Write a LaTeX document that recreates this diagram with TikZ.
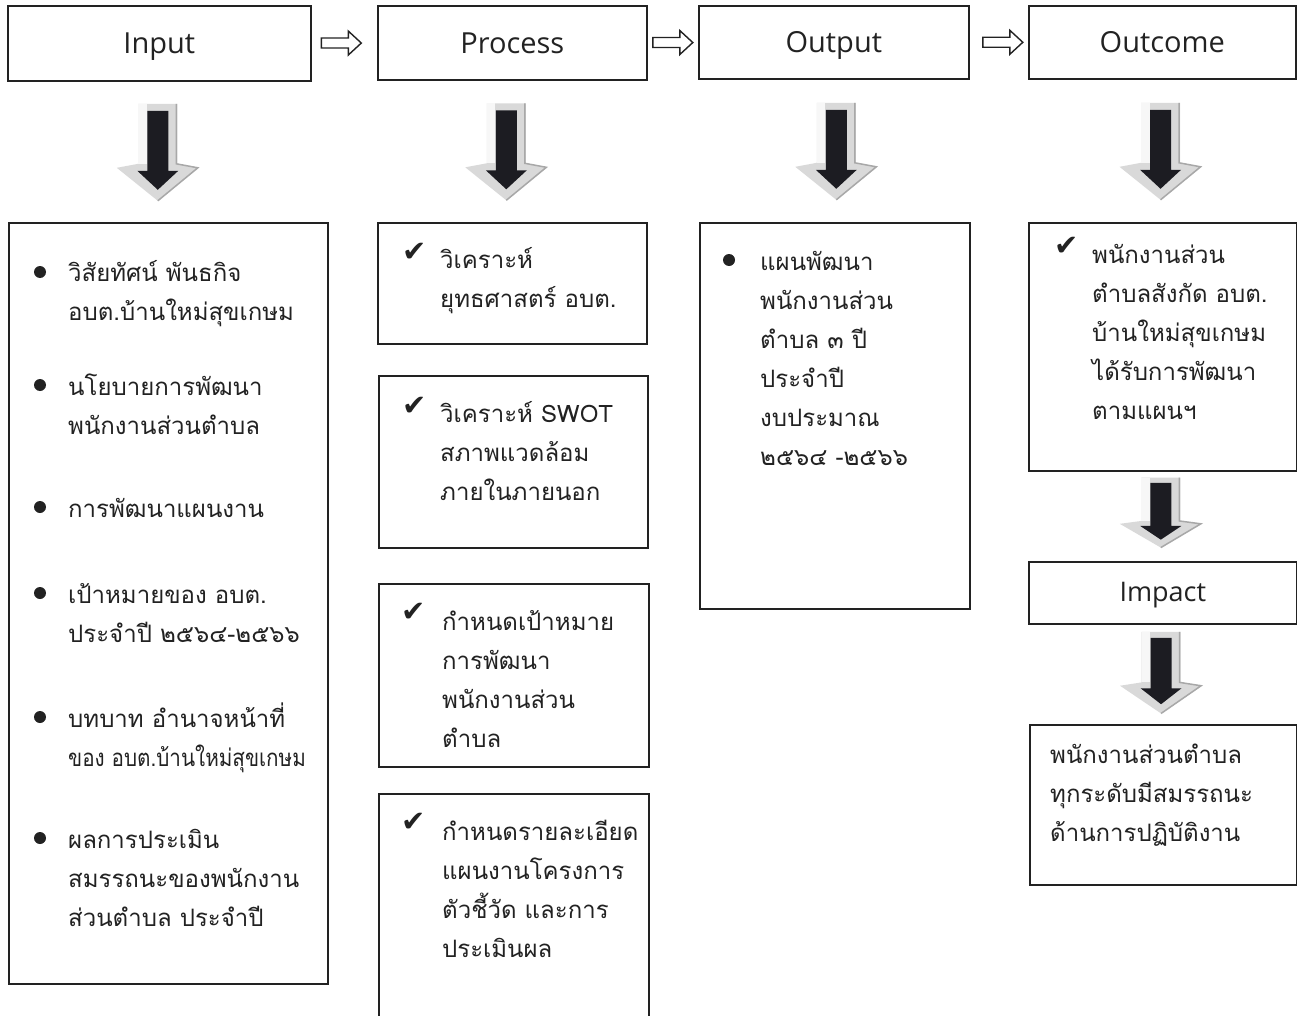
\documentclass[tikz,border=0pt]{standalone}
\usepackage{fontspec}
\setmainfont{Open Sans}
\newfontfamily\thaifont[Script=Thai]{Loma}
\newfontfamily\thainarrow[Script=Thai, FakeStretch=0.86]{Loma}
\newfontfamily\symfont{DejaVu Sans}
\usetikzlibrary{calc}
\definecolor{ink}{HTML}{222222}
\definecolor{arrowlight}{HTML}{D9D9D9}
\definecolor{arrowedge}{HTML}{A8A8A8}
\definecolor{arrowdark}{HTML}{1C1C22}
\newcommand\thlines[4]{%
  \foreach \t [count=\i from 0] in {#4} \node[th] (#1-\i) at (#2, #3+39*\i) {\t};}
\begin{document}
\begin{tikzpicture}[x=1pt,y=-1pt,
  box/.style={draw=ink, line width=1.6pt, anchor=north west, inner sep=0pt, text=ink},
  hdr/.style={box, font=\fontsize{29}{34}\selectfont, text height=24pt, text depth=3pt},
  th/.style={font=\thaifont\fontsize{24}{39}\selectfont, text=ink, anchor=base west, inner sep=0pt},
  bul/.style={circle, fill=ink, inner sep=0pt, minimum size=12pt},
  chk/.style={font=\symfont\fontsize{29}{32}\selectfont, text=ink, inner sep=0pt},
  fatarrow/.pic={
    \fill[arrowlight] (-19.5,-48) -- (19.5,-48) -- (19.5,12) -- (41,16) -- (0,49) -- (-41,16) -- (-19.5,12) -- cycle;
    \fill[white!80!arrowlight] (-19.5,-48) rectangle (-11,12);
    \draw[arrowedge, line width=1.5pt] (18.5,-48) -- (18.5,12) -- (40,16) -- (0,49);
    \fill[arrowdark] (-10.5,-41) -- (10.5,-41) -- (10.5,19) -- (20.5,19) -- (0,38) -- (-20.5,19) -- (-10.5,19) -- cycle;
  },
  hollowarrow/.pic={
    \draw[ink, line width=1.4pt, fill=white, line join=miter] (-20,-5) -- (7,-5) -- (7,-12) -- (20,0) -- (7,12) -- (7,5) -- (-20,5) -- cycle;
  }
]
\useasboundingbox (0,0) rectangle (1297,1016);
\fill[white] (0,0) rectangle (1297,1016);

% header boxes
\node[hdr, minimum width=303pt, minimum height=75pt] (input) at (7,5) {Input};
\node[hdr, minimum width=269pt, minimum height=74pt] (process) at (377,5) {Process};
\node[hdr, minimum width=270pt, minimum height=73pt] (output) at (698,5) {Output};
\node[hdr, minimum width=267pt, minimum height=73pt] (outcome) at (1028,5) {Outcome};

% header connectors
\pic at ($(input.east)!0.5!(process.west)+(-3,0)$) {hollowarrow};
\pic at ($(process.east)!0.5!(output.west)$) {hollowarrow};
\pic at ($(output.east)!0.5!(outcome.west)+(4,0)$) {hollowarrow};

% content boxes
\node[box, minimum width=319pt, minimum height=761pt] (inbox) at (8,222) {};
\node[box, minimum width=269pt, minimum height=121pt] (p1) at (377,222) {};
\node[box, minimum width=269pt, minimum height=172pt] (p2) at (378,375) {};
\node[box, minimum width=270pt, minimum height=183pt] (p3) at (378,583) {};
\node[box, minimum width=270pt, minimum height=240pt] (p4) at (378,793) {};
\node[box, minimum width=270pt, minimum height=386pt] (outbox) at (699,222) {};
\node[box, minimum width=268pt, minimum height=248pt] (ocbox) at (1028,222) {};
\node[hdr, minimum width=268pt, minimum height=62pt, font=\fontsize{27}{30}\selectfont, text height=21pt, text depth=3pt] (impact) at (1028,561) {Impact};
\node[box, minimum width=267pt, minimum height=160pt] (final) at (1029,724) {};

% down arrows
\pic at ($(input.south)!0.5!(inbox.north)+(-6,0)$) {fatarrow};
\pic at ($(process.south)!0.5!(p1.north)+(-6,0)$) {fatarrow};
\pic at ($(output.south)!0.5!(outbox.north)+(2,0)$) {fatarrow};
\pic at ($(outcome.south)!0.5!(ocbox.north)+(-2,0)$) {fatarrow};
\pic[yscale=0.72] at ($(ocbox.south)!0.5!(impact.north)+(-2,-4)$) {fatarrow};
\pic[yscale=0.84] at ($(impact.south)!0.5!(final.north)+(-2,-2)$) {fatarrow};

% Input list
\node[bul] (ib1) at (40,272) {};
\thlines{in1}{68}{281}{วิสัยทัศน์ พันธกิจ, อบต.บ้านใหม่สุขเกษม}
\node[bul] (ib2) at (40,385) {};
\thlines{in2}{68}{395}{นโยบายการพัฒนา, พนักงานส่วนตำบล}
\node[bul] (ib3) at (40,507) {};
\thlines{in3}{68}{517}{การพัฒนาแผนงาน}
\node[bul] (ib4) at (40,593) {};
\thlines{in4}{68}{603}{เป้าหมายของ อบต., ประจำปี ๒๕๖๔-๒๕๖๖}
\node[bul] (ib5) at (40,717) {};
\thlines{in5}{68}{727}{บทบาท อำนาจหน้าที่}
\node[th, font=\thainarrow\fontsize{24}{39}\selectfont] (in5-1) at (68,766) {ของ อบต.บ้านใหม่สุขเกษม};
\node[bul] (ib6) at (40,838) {};
\thlines{in6}{68}{848}{ผลการประเมิน, สมรรถนะของพนักงาน, ส่วนตำบล ประจำปี}

% Process boxes
\node[chk] (c1) at (415,252) {✔};
\thlines{pt1}{440}{268}{วิเคราะห์, ยุทธศาสตร์ อบต.}
\node[chk] (c2) at (415,406) {✔};
\thlines{pt2}{440}{422}{วิเคราะห์ SWOT, สภาพแวดล้อม, ภายในภายนอก}
\node[chk] (c3) at (414,612) {✔};
\thlines{pt3}{442}{630}{กำหนดเป้าหมาย, การพัฒนา, พนักงานส่วน, ตำบล}
\node[chk] (c4) at (414,822) {✔};
\thlines{pt4}{442}{840}{กำหนดรายละเอียด, แผนงานโครงการ, ตัวชี้วัด และการ, ประเมินผล}

% Output
\node[bul] (ob1) at (729,260) {};
\thlines{ot}{760}{270}{แผนพัฒนา, พนักงานส่วน, ตำบล ๓ ปี, ประจำปี, งบประมาณ, ๒๕๖๔ -๒๕๖๖}

% Outcome
\node[chk] (c5) at (1067,246) {✔};
\thlines{oc}{1092}{263}{พนักงานส่วน, ตำบลสังกัด อบต., บ้านใหม่สุขเกษม, ได้รับการพัฒนา, ตามแผนฯ}

% Impact result
\thlines{fn}{1050}{763}{พนักงานส่วนตำบล, ทุกระดับมีสมรรถนะ, ด้านการปฏิบัติงาน}
\end{tikzpicture}
\end{document}
